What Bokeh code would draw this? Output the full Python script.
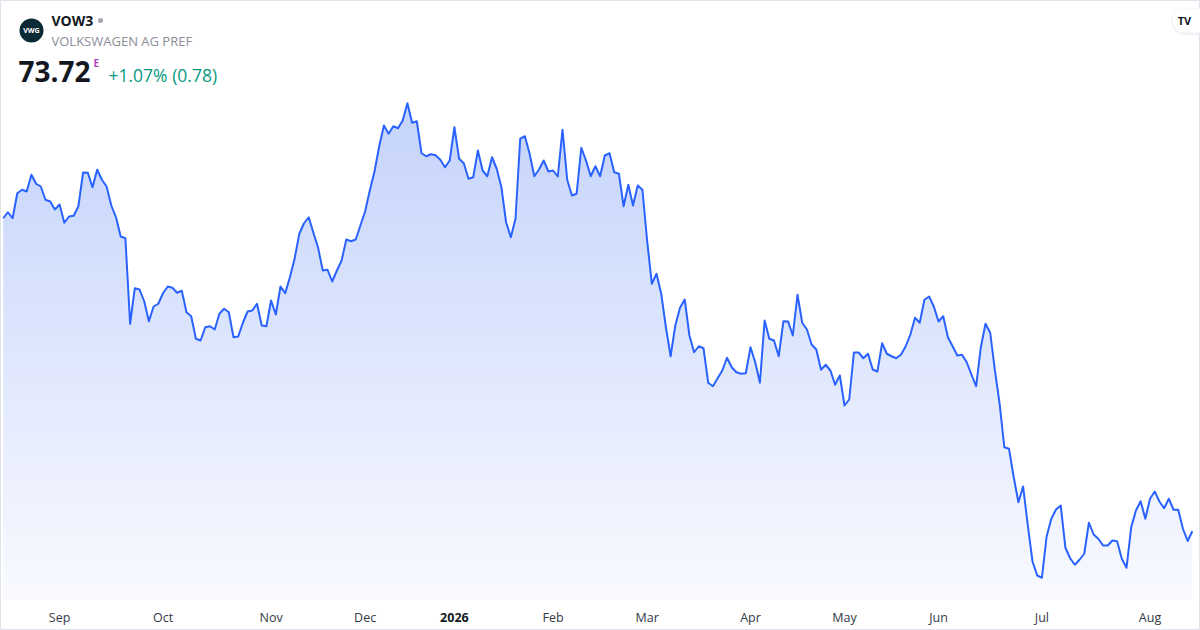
import numpy as np
from bokeh.plotting import figure
from bokeh.models import Range1d
from bokeh.core.properties import value
from bokeh.embed import file_html
from bokeh.resources import INLINE

# ---------------- data ----------------
ticker = "VOW3"
company = "VOLKSWAGEN AG PREF"
last_price = "73.72"
change_text = "+1.07% (0.78)"

# daily closes, Aug 2025 - Aug 2026 (trading-day index)
prices = [
    98.76, 99.24, 98.76, 100.76, 101.04, 100.90, 102.24, 101.52, 101.30, 100.24,
    100.10, 99.46, 99.86, 98.40, 98.90, 98.96, 99.72, 102.42, 102.40, 101.24,
    102.64, 101.84, 101.30, 99.78, 98.84, 97.30, 97.16, 90.32, 93.16, 93.06,
    92.12, 90.52, 91.70, 91.92, 92.76, 93.30, 93.20, 92.80, 92.96, 91.24,
    90.92, 89.12, 88.98, 90.04, 90.12, 89.86, 91.12, 91.52, 91.24, 89.24,
    89.30, 90.40, 91.30, 91.38, 91.92, 90.18, 90.12, 92.18, 91.06, 93.30,
    92.76, 94.04, 95.52, 97.52, 98.36, 98.84, 97.60, 96.40, 94.58, 94.64,
    93.70, 94.58, 95.38, 97.06, 96.92, 97.06, 98.18, 99.30, 100.98, 102.50,
    104.52, 106.18, 105.52, 106.12, 105.96, 106.58, 107.96, 106.40, 106.52, 103.96,
    103.72, 103.88, 103.80, 103.44, 102.84, 103.38, 106.04, 103.52, 103.16, 101.92,
    102.04, 104.18, 102.58, 102.12, 103.64, 102.72, 101.24, 98.44, 97.24, 98.72,
    105.12, 105.32, 103.92, 102.12, 102.66, 103.38, 102.50, 102.58, 102.10, 105.84,
    101.84, 100.58, 100.72, 104.40, 103.38, 102.12, 102.92, 102.12, 103.78, 103.96,
    102.44, 102.32, 99.72, 101.44, 99.78, 101.38, 101.04, 96.98, 93.52, 94.32,
    92.72, 90.04, 87.72, 90.18, 91.60, 92.26, 89.38, 88.04, 88.52, 88.36,
    85.60, 85.32, 85.96, 86.58, 87.60, 86.84, 86.44, 86.32, 86.36, 88.44,
    87.24, 85.60, 90.58, 89.12, 88.98, 87.72, 90.52, 90.50, 89.38, 92.64,
    90.40, 89.86, 88.66, 88.26, 86.64, 87.04, 86.58, 85.44, 86.18, 83.78,
    84.26, 88.02, 88.02, 87.56, 87.92, 86.66, 86.50, 88.76, 87.92, 87.72,
    87.56, 87.84, 88.50, 89.44, 90.80, 90.40, 92.24, 92.50, 91.70, 90.50,
    90.92, 89.24, 88.52, 87.78, 87.84, 87.24, 86.26, 85.32, 88.44, 90.32,
    89.60, 86.58, 83.92, 80.44, 80.32, 78.04, 76.04, 77.30, 74.18, 71.30,
    70.18, 70.00, 73.30, 74.72, 75.46, 75.78, 72.40, 71.56, 71.04, 71.44,
    71.92, 74.40, 73.46, 73.12, 72.58, 72.58, 72.98, 72.92, 71.52, 70.80,
    74.04, 75.38, 76.12, 74.72, 76.32, 76.90, 76.10, 75.56, 76.32, 75.44,
    75.44, 73.92, 72.94, 73.72,
]

# month starts (trading-day index) and their labels
month_ticks = [12, 34, 57, 77, 96, 117, 137, 159, 179, 199, 221, 244]
month_labels = ["Sep", "Oct", "Nov", "Dec", "2026", "Feb", "Mar", "Apr", "May", "Jun", "Jul", "Aug"]
bold_labels = ["2026"]

# ---------------- layout ----------------
FONT = "Open Sans"
W, H = 1200, 630
X_LO, X_HI = -0.574, 254.74
Y_LO, Y_HI = 65.78, 116.18


def dx(page_x):
    return X_LO + page_x / W * (X_HI - X_LO)


def dy(page_y):
    return Y_HI - page_y / H * (Y_HI - Y_LO)


p = figure(frame_width=W, frame_height=H,
           x_range=Range1d(X_LO, X_HI), y_range=Range1d(Y_LO, Y_HI),
           output_backend="svg", toolbar_location=None,
           x_axis_location=None, y_axis_location=None,
           min_border=0, min_border_left=0, min_border_right=0,
           min_border_top=0, min_border_bottom=0)
p.xgrid.visible = False
p.ygrid.visible = False
p.outline_line_color = "#e0e3eb"
p.outline_line_width = 1
p.background_fill_color = "white"
p.border_fill_color = "white"

xs = np.arange(len(prices))
pa = np.array(prices)

# gradient area under the line (horizontal colour bands)
base = dy(599)
top_rgb = np.array([196, 211, 251])
bot_rgb = np.array([249, 250, 255])
step = 0.8
levels = np.arange(base, pa.max() + step, step)
for lo in levels:
    mid = lo + step / 2
    page_y = (Y_HI - mid) / (Y_HI - Y_LO) * H
    t = np.clip((page_y - 100) / 500, 0, 1)
    rgb = (top_rgb * (1 - t) + bot_rgb * t).round().astype(int)
    col = "#%02x%02x%02x" % tuple(rgb)
    y1 = np.minimum(pa, lo)
    y2 = np.minimum(pa, lo + step + 0.06)
    p.varea(x=xs, y1=y1, y2=y2, fill_color=col, fill_alpha=1.0)

p.line(xs, pa, line_color="#2962ff", line_width=2, line_join="round")

# month labels along the bottom
norm = [(t, l) for t, l in zip(month_ticks, month_labels) if l not in bold_labels]
bold = [(t, l) for t, l in zip(month_ticks, month_labels) if l in bold_labels]
p.text(x=[t for t, _ in norm], y=[dy(617)] * len(norm), text=[l for _, l in norm],
       text_font=value(FONT), text_font_size="12.5px", text_color="#333a45",
       text_align="center", text_baseline="middle")
p.text(x=[t for t, _ in bold], y=[dy(617)] * len(bold), text=[l for _, l in bold],
       text_font=value(FONT), text_font_size="12.5px", text_font_style="bold",
       text_color="#131722", text_align="center", text_baseline="middle")

# header
p.scatter(x=[dx(31)], y=[dy(30)], size=24, marker="circle", fill_color="#0c2a36", line_color=None)
p.text(x=[dx(31)], y=[dy(30)], text=["VWG"], text_font=value(FONT), text_font_size="7px",
       text_font_style="bold", text_color="white", text_align="center", text_baseline="middle")
p.text(x=[dx(51)], y=[dy(20)], text=[ticker], text_font=value(FONT), text_font_size="14px",
       text_font_style="bold", text_color="#131722", text_align="left", text_baseline="middle")
p.scatter(x=[dx(100)], y=[dy(20)], size=5, marker="circle", fill_color="#a3a6af", line_color=None)
p.text(x=[dx(51)], y=[dy(40)], text=[company], text_font=value(FONT), text_font_size="13px",
       text_color="#8a8d96", text_align="left", text_baseline="middle")
p.text(x=[dx(18)], y=[dy(71)], text=[last_price], text_font=value(FONT), text_font_size="28px",
       text_font_style="bold", text_color="#131722", text_align="left", text_baseline="middle")
p.text(x=[dx(93)], y=[dy(62)], text=["E"], text_font=value(FONT), text_font_size="10px",
       text_font_style="bold", text_color="#ab47bc", text_align="left", text_baseline="middle")
p.text(x=[dx(108)], y=[dy(74)], text=[change_text], text_font=value(FONT), text_font_size="17.5px",
       text_color="#089981", text_align="left", text_baseline="middle")

# TradingView badge (pill cut by the right edge)
p.scatter(x=[dx(1184)], y=[dy(21)], size=27, marker="circle", fill_color="#eceef2",
          fill_alpha=0.7, line_color=None)
p.rect(x=[dx(1196)], y=[dy(21)], width=24, height=27, width_units="screen", height_units="screen",
       fill_color="#eceef2", fill_alpha=0.7, line_color=None)
p.scatter(x=[dx(1184)], y=[dy(20)], size=24, marker="circle", fill_color="white", line_color=None)
p.rect(x=[dx(1196)], y=[dy(20)], width=24, height=24, width_units="screen", height_units="screen",
       fill_color="white", line_color=None)
p.text(x=[dx(1184)], y=[dy(20)], text=["TV"], text_font=value(FONT), text_font_size="11px",
       text_font_style="bold", text_color="#131722", text_align="center", text_baseline="middle")

open("out.html", "w").write(file_html(p, INLINE))
